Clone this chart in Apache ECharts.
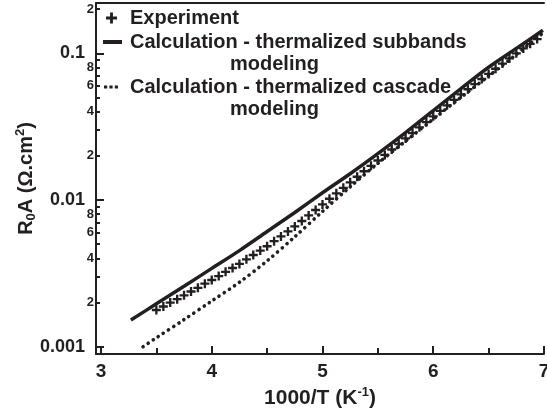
<!DOCTYPE html>
<html>
<head>
<meta charset="utf-8">
<script src="https://cdn.jsdelivr.net/npm/echarts@6/dist/echarts.min.js"></script>
<style>html,body{margin:0;padding:0;background:#fff}#c{width:547px;height:416px}</style>
</head>
<body>
<div id="c"></div>
<script>
// ---- data ----
var expX = [3.500,3.563,3.625,3.688,3.750,3.813,3.875,3.938,4.000,4.063,4.125,4.188,4.250,4.313,4.375,4.438,4.500,4.563,4.625,4.688,4.750,4.813,4.875,4.938,5.000,5.063,5.125,5.188,5.250,5.313,5.375,5.438,5.500,5.563,5.625,5.688,5.750,5.813,5.875,5.938,6.000,6.063,6.125,6.188,6.250,6.313,6.375,6.438,6.500,6.563,6.625,6.688,6.750,6.813,6.875,6.938];
var expY = [0.00178,0.00188,0.00200,0.00211,0.00224,0.00238,0.00252,0.00269,0.00285,0.00303,0.00324,0.00344,0.00367,0.00394,0.00422,0.00452,0.00484,0.00524,0.00565,0.00611,0.00661,0.00719,0.00785,0.00855,0.00933,0.0102,0.0111,0.0121,0.0132,0.0144,0.0157,0.0171,0.0186,0.0203,0.0221,0.0241,0.0263,0.0286,0.0313,0.0340,0.0372,0.0405,0.0442,0.0481,0.0525,0.0569,0.0617,0.0668,0.0724,0.0785,0.0851,0.0923,0.100,0.108,0.116,0.125];

var subX = [3.27,3.50,3.75,4.00,4.25,4.50,4.75,5.00,5.25,5.50,5.75,6.00,6.25,6.50,6.75,6.99];
var subY = [0.00152,0.00196,0.00258,0.00342,0.00452,0.00610,0.00822,0.0112,0.0151,0.0207,0.0288,0.0407,0.0575,0.0804,0.108,0.1435];

var casX = [3.38,3.50,3.75,4.00,4.25,4.50,4.75,5.00,5.25,5.50,5.75,6.00,6.25,6.50,6.75,6.99];
var casY = [0.00100,0.00115,0.00153,0.00205,0.00275,0.00385,0.00562,0.00836,0.0123,0.0178,0.0252,0.0356,0.0501,0.0700,0.0982,0.1374];

var xMajorTicks = [3,4,5,6,7];
var xMinorTicks = [3.5,4.5,5.5,6.5];
var yMajorTicks = [0.001,0.01,0.1];
var yLabeledTicks = [0.001,0.002,0.004,0.006,0.008,0.01,0.02,0.04,0.06,0.08,0.1,0.2];
var yMinorTicks = [0.002,0.003,0.004,0.005,0.006,0.007,0.008,0.009,0.02,0.03,0.04,0.05,0.06,0.07,0.08,0.09,0.2];

var names = ['Experiment','Calculation - thermalized subbands','Calculation - thermalized cascade'];

// ---- chart ----
var INK = '#231f20';
var FONT = '"Liberation Sans", Arial, Helvetica, sans-serif';
var yMin = 0.000892, yMax = 0.2203;
function zip(a, b){ return a.map(function(v,i){ return [v, b[i]]; }); }
var lg = function(v){ return Math.log(v)/Math.LN10; };
var plusPath = 'path://M3.7,0H6.3V3.7H10V6.3H6.3V10H3.7V6.3H0V3.7H3.7Z';
var dotsPath = 'path://M0,0H2.4V2.4H0Z M4,0H6.4V2.4H4Z M8,0H10.4V2.4H8Z';

var chart = echarts.init(document.getElementById('c'), null, {renderer:'canvas'});
var LFS = 20;
var legendText = {color: INK, fontFamily: FONT, fontWeight: 'bold', fontSize: LFS, lineHeight: 22};
function twoLine(padLeft){
  return {
    color: INK, fontFamily: FONT, fontWeight: 'bold', fontSize: LFS, lineHeight: 22,
    padding: [22,0,0,padLeft],
    rich: {
      a: {color: INK, fontFamily: FONT, fontWeight: 'bold', fontSize: LFS, lineHeight: 22},
      b: {color: INK, fontFamily: FONT, fontWeight: 'bold', fontSize: LFS, lineHeight: 22, padding: [0,0,0,100]}
    }
  };
}
var fmt2 = function(name){ return '{a|' + name + '}\n{b|modeling}'; };

chart.setOption({
  animation: false,
  backgroundColor: '#fff',
  grid: {left: 96, right: 3, top: 3, bottom: 62, containLabel: false, outerBoundsMode: 'none'},
  legend: [
    {left: 106, top: 7, padding: 0, orient: 'vertical', selectedMode: false,
     itemWidth: 11, itemHeight: 11,
     data: [{name: names[0], icon: plusPath}],
     textStyle: Object.assign({padding: [0,0,0,8]}, legendText)},
    {left: 103, top: 9, padding: 0, orient: 'vertical', selectedMode: false,
     itemWidth: 19, itemHeight: 4,
     data: [{name: names[1], icon: 'rect'}],
     formatter: fmt2, textStyle: twoLine(3)},
    {left: 104, top: 54, padding: 0, orient: 'vertical', selectedMode: false,
     itemWidth: 14, itemHeight: 3.4,
     data: [{name: names[2], icon: dotsPath}],
     formatter: fmt2, textStyle: twoLine(7)}
  ],
  xAxis: [
    {type: 'value', min: 2.955, max: 7.0, position: 'bottom',
     name: '{n|1000/T (K}{p|-1}{n|)}', nameLocation: 'middle', nameGap: 32, nameMoveOverlap: false,
     nameTextStyle: {rich: {
       n: {color: INK, fontFamily: FONT, fontWeight: 'bold', fontSize: 21, lineHeight: 24},
       p: {color: INK, fontFamily: FONT, fontWeight: 'bold', fontSize: 13, lineHeight: 24, verticalAlign: 'top', padding: [0,0,9,0]}
     }},
     axisLine: {show: true, lineStyle: {color: INK, width: 2}},
     axisTick: {show: true, inside: true, length: 8, lineStyle: {color: INK, width: 2}, customValues: xMajorTicks},
     axisLabel: {show: true, customValues: xMajorTicks, margin: 8, color: INK, fontFamily: FONT, fontWeight: 'bold', fontSize: 19},
     splitLine: {show: false}},
    {type: 'value', min: 2.955, max: 7.0, position: 'bottom',
     axisLine: {show: false},
     axisTick: {show: true, inside: true, length: 6, lineStyle: {color: INK, width: 2}, customValues: xMinorTicks},
     axisLabel: {show: false}, splitLine: {show: false}},
    {type: 'value', min: 2.955, max: 7.0, position: 'top',
     axisLine: {show: true, lineStyle: {color: INK, width: 2}},
     axisTick: {show: false}, axisLabel: {show: false}, splitLine: {show: false}}
  ],
  yAxis: [
    {type: 'log', logBase: 10, min: yMin, max: yMax,
     axisLine: {show: false}, axisTick: {show: false}, axisLabel: {show: false}, splitLine: {show: false}},
    {type: 'value', min: lg(yMin), max: lg(yMax), position: 'left',
     name: '{n|R}{s|0}{n|A (Ω.cm}{p|2}{n|)}', nameLocation: 'middle', nameGap: 58, nameRotate: 90, nameMoveOverlap: false,
     nameTextStyle: {rich: {
       n: {color: INK, fontFamily: FONT, fontWeight: 'bold', fontSize: 20, lineHeight: 24},
       s: {color: INK, fontFamily: FONT, fontWeight: 'bold', fontSize: 13, lineHeight: 24, verticalAlign: 'bottom', padding: [6,0,0,0]},
       p: {color: INK, fontFamily: FONT, fontWeight: 'bold', fontSize: 13, lineHeight: 24, verticalAlign: 'top', padding: [0,0,10,0]}
     }},
     axisLine: {show: true, lineStyle: {color: INK, width: 2}},
     axisTick: {show: true, inside: true, length: 8, lineStyle: {color: INK, width: 2}, customValues: yMajorTicks.map(lg)},
     axisLabel: {show: true, customValues: yLabeledTicks.map(lg), margin: 2,
       formatter: function(v){
         var e = Math.floor(v + 1e-9);
         var m = Math.round(Math.pow(10, v - e));
         if (m === 1) return '{maj|' + Math.pow(10, e).toFixed(-e) + '}';
         return '{min|' + m + '}';
       },
       rich: {
         maj: {color: INK, fontFamily: FONT, fontWeight: 'bold', fontSize: 18, padding: [0,9,0,0]},
         min: {color: INK, fontFamily: FONT, fontWeight: 'bold', fontSize: 13}
       }},
     splitLine: {show: false}},
    {type: 'value', min: lg(yMin), max: lg(yMax), position: 'left',
     axisLine: {show: false},
     axisTick: {show: true, inside: true, length: 4, lineStyle: {color: INK, width: 2}, customValues: yMinorTicks.map(lg)},
     axisLabel: {show: false}, splitLine: {show: false}}
  ],
  series: [
    {name: names[1], type: 'line', xAxisIndex: 0, yAxisIndex: 0, data: zip(subX, subY),
     showSymbol: false, symbol: 'none', smooth: 0.3, color: INK,
     lineStyle: {color: INK, width: 3.5}, z: 3},
    {name: names[2], type: 'line', xAxisIndex: 0, yAxisIndex: 0, data: zip(casX, casY),
     showSymbol: false, symbol: 'none', smooth: 0.3, color: INK,
     lineStyle: {color: INK, width: 3.6, type: [0.1, 6], cap: 'round'}, z: 3},
    {name: names[0], type: 'scatter', xAxisIndex: 0, yAxisIndex: 0, data: zip(expX, expY),
     symbol: plusPath, symbolSize: 9, color: INK, itemStyle: {color: INK, opacity: 1}, z: 4}
  ]
});
</script>
</body>
</html>
